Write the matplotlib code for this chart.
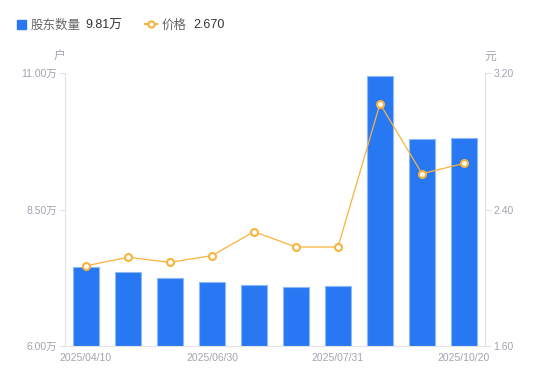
import matplotlib

matplotlib.use("Agg")
import matplotlib.pyplot as plt
from matplotlib.lines import Line2D
from matplotlib.patches import Rectangle

plt.rcParams["font.family"] = ["Liberation Sans", "Noto Sans CJK SC", "DejaVu Sans"]

# data
dates = ["2025/04/10", "", "", "2025/06/30", "", "", "2025/07/31", "", "", "2025/10/20"]
holders = [7.45, 7.36, 7.25, 7.17, 7.12, 7.08, 7.10, 10.95, 9.79, 9.81]  # 万户
price = [2.07, 2.12, 2.09, 2.13, 2.27, 2.18, 2.18, 3.02, 2.61, 2.67]  # 元

BLUE = "#2778F2"
BLUE_EDGE = "#8DB9F9"
ORANGE = "#F8B33C"
AXIS = "#E3E3E6"
LABEL = "#A3A3B0"

fig = plt.figure(figsize=(5.5, 3.81), dpi=100)
ax = fig.add_axes([65 / 550, 1 - 346 / 381, 420 / 550, 273 / 381])
ax2 = ax.twinx()

x = list(range(len(holders)))
ax.bar(x, holders, width=0.6, color=BLUE, edgecolor=BLUE_EDGE, linewidth=0.8)
ax2.plot(x, price, color=ORANGE, lw=0.9, marker="o", ms=5,
         mfc="white", mec=ORANGE, mew=1.5)

ax.set_xlim(-0.5, len(x) - 0.5)
ax.set_ylim(6.0, 11.0)
ax2.set_ylim(1.6, 3.2)

ax.set_yticks([6.0, 8.5, 11.0])
ax.set_yticklabels([f"{v:.2f}万" for v in [6.0, 8.5, 11.0]])
ax2.set_yticks([1.6, 2.4, 3.2])
ax2.set_yticklabels([f"{v:.2f}" for v in [1.6, 2.4, 3.2]])
ax.set_xticks(x)
ax.set_xticklabels(dates)

for a in (ax, ax2):
    a.spines["top"].set_visible(False)
ax.spines["right"].set_visible(False)
ax.spines["left"].set_color(AXIS)
ax.spines["bottom"].set_color(AXIS)
ax2.spines["left"].set_visible(False)
ax2.spines["bottom"].set_visible(False)
ax2.spines["right"].set_color(AXIS)

ax.tick_params(axis="y", length=4, color=AXIS, labelsize=7.5, labelcolor=LABEL, pad=2)
ax2.tick_params(axis="y", length=4, color=AXIS, labelsize=7.5, labelcolor=LABEL, pad=2)
ax.tick_params(axis="x", length=0, labelsize=7.5, labelcolor=LABEL, pad=5)

# axis units
fig.text(59 / 550, 1 - 57 / 381, "户", fontsize=8.5, color=LABEL, ha="center", va="center")
fig.text(490 / 550, 1 - 57 / 381, "元", fontsize=8.5, color=LABEL, ha="center", va="center")

# legend with latest values
ty = 1 - 25.5 / 381
fig.add_artist(Rectangle((17 / 550, 1 - 29 / 381), 9 / 550, 9 / 381,
                         transform=fig.transFigure, color=BLUE))
fig.text(31 / 550, ty, "股东数量", fontsize=9, color="#666666", va="center")
fig.text(85 / 550, ty, f"{holders[-1]:.2f}万", fontsize=9, color="#333333", va="center")
fig.add_artist(Line2D([145 / 550, 157 / 550], [1 - 24 / 381, 1 - 24 / 381],
                      transform=fig.transFigure, color=ORANGE, lw=1.5))
fig.add_artist(Line2D([151 / 550], [1 - 24 / 381], transform=fig.transFigure,
                      marker="o", ms=4.5, mfc="white", mec=ORANGE, mew=1.5))
fig.text(162 / 550, ty, "价格", fontsize=9, color="#666666", va="center")
fig.text(193 / 550, ty, f"{price[-1]:.3f}", fontsize=9, color="#333333", va="center")

fig.savefig("out.png", dpi=100)
